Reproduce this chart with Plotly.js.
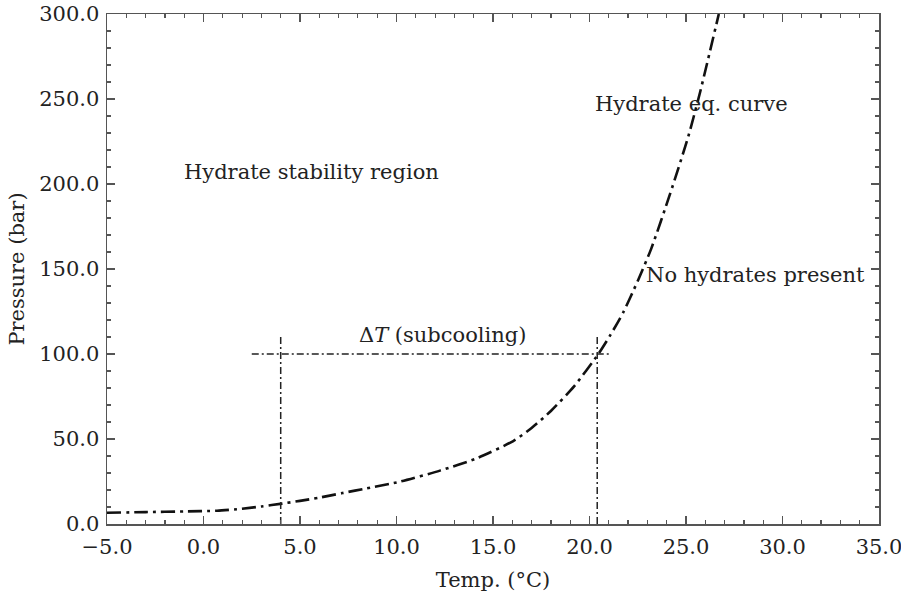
<!DOCTYPE html>
<html>
<head>
<meta charset="utf-8">
<script src="https://cdn.plot.ly/plotly-3.0.1.min.js"></script>
<style>html,body{margin:0;padding:0;background:#fff;}#chart{width:901px;height:594px;}</style>
</head>
<body>
<div id="chart"></div>
<script>
// Hydrate equilibrium curve
const curveT = [-5, -3, -1, 0.7, 2, 3, 4.07, 5, 6, 7.2, 8.47, 10.18, 12.25, 14.15, 16.05, 17.0, 18.0, 19.2, 20.46, 21.1, 21.75, 22.5, 23.2, 24.17, 25.12, 25.73, 26.7];
const curveP = [6.6, 7.0, 7.4, 7.8, 9, 10.3, 12, 13.6, 15.5, 18.2, 21, 24.9, 31.4, 38.6, 48.8, 56.5, 66.5, 81, 100, 111.5, 124.5, 143, 162, 194, 228, 254, 300];

// Subcooling guide lines
const subLineT = [2.5, 21.0];
const subLineP = [100, 100];
const leftVertT = [4.0, 4.0];
const rightVertT = [20.4, 20.4];
const vertP = [0, 111];

// Labels
const labelText = ["Hydrate stability region", "Hydrate eq. curve", "No hydrates present", "Δ<i>T</i> (subcooling)"];
const labelT = [5.6, 25.3, 28.6, 12.4];
const labelP = [207, 247, 146.5, 111];

const xTitle = "Temp. (°C)";
const yTitle = "Pressure (bar)";

const FONT = "DejaVu Serif, serif";
const FS = 21;
const guideStyle = {color: "#222", width: 1.5, dash: "7px,3px,2px,3px"};

const data = [
  {x: curveT, y: curveP, mode: "lines", line: {color: "#111", width: 2.6, dash: "14px,5px,3px,5px", shape: "spline", smoothing: 0.6}, hoverinfo: "skip"},
  {x: subLineT, y: subLineP, mode: "lines", line: guideStyle, hoverinfo: "skip"},
  {x: leftVertT, y: vertP, mode: "lines", line: guideStyle, hoverinfo: "skip"},
  {x: rightVertT, y: vertP, mode: "lines", line: guideStyle, hoverinfo: "skip"}
];

const axisCommon = {
  showgrid: false, zeroline: false, showline: true, linecolor: "#555", linewidth: 1.5,
  mirror: "ticks", ticks: "inside", ticklen: 8, tickwidth: 1.3, tickcolor: "#555",
  tickfont: {family: FONT, size: FS, color: "#222"}, tickformat: ".1f",
  ticklabeloverflow: "allow"
};

const layout = {
  width: 901, height: 594,
  margin: {l: 107, r: 22, t: 14, b: 70},
  paper_bgcolor: "#fff", plot_bgcolor: "#fff",
  showlegend: false,
  font: {family: FONT, color: "#222"},
  xaxis: Object.assign({}, axisCommon, {
    range: [-5, 35], dtick: 5, tick0: -5, ticklabelstandoff: 3,
    minor: {ticks: "inside", ticklen: 4, dtick: 1, tickcolor: "#555", tickwidth: 1.2},
    title: {text: xTitle, font: {family: FONT, size: FS, color: "#222"}, standoff: 14}
  }),
  yaxis: Object.assign({}, axisCommon, {
    range: [0, 300], dtick: 50, ticklabelstandoff: 2,
    minor: {ticks: "inside", ticklen: 4, dtick: 10, tickcolor: "#555", tickwidth: 1.2},
    title: {text: yTitle, font: {family: FONT, size: FS, color: "#222"}, standoff: 9}
  }),
  annotations: labelText.map((t, i) => ({
    x: labelT[i], y: labelP[i], xref: "x", yref: "y", text: t, showarrow: false,
    font: {family: FONT, size: FS, color: "#222"}, xanchor: "center", yanchor: "middle"
  }))
};

Plotly.newPlot("chart", data, layout, {displayModeBar: false, staticPlot: true});
</script>
</body>
</html>
